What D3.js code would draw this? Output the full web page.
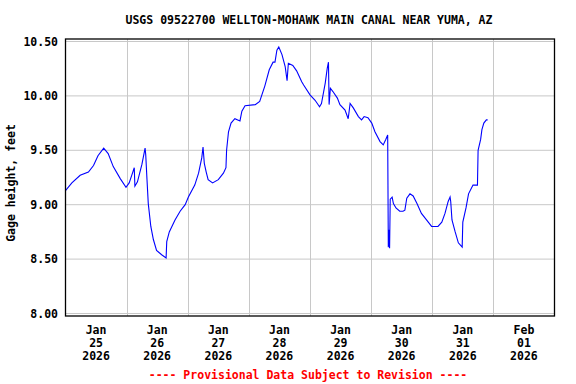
<!DOCTYPE html>
<html>
<head>
<meta charset="utf-8">
<script src="https://cdn.jsdelivr.net/npm/d3@7"></script>
<style>
  body { margin: 0; background: #fff; }
  text { font-family: "DejaVu Sans Mono", "Liberation Mono", monospace; font-weight: bold; }
</style>
</head>
<body>
<svg id="chart" width="576" height="384"></svg>
<script>
// gage height readings (local time, feet)
const times = [
  "2026-01-25 00:00","2026-01-25 02:30","2026-01-25 05:45","2026-01-25 09:00","2026-01-25 11:00",
  "2026-01-25 12:45","2026-01-25 15:00","2026-01-25 16:45","2026-01-25 18:45","2026-01-25 21:30",
  "2026-01-25 23:45","2026-01-26 01:00","2026-01-26 02:00","2026-01-26 03:00","2026-01-26 03:15",
  "2026-01-26 04:15","2026-01-26 06:00","2026-01-26 07:15","2026-01-26 07:30","2026-01-26 08:00",
  "2026-01-26 08:30","2026-01-26 09:30","2026-01-26 10:30","2026-01-26 11:45","2026-01-26 13:45",
  "2026-01-26 15:30","2026-01-26 15:45","2026-01-26 16:45","2026-01-26 19:00","2026-01-26 21:00",
  "2026-01-26 23:00","2026-01-27 00:15","2026-01-27 02:45","2026-01-27 04:15","2026-01-27 05:30",
  "2026-01-27 06:00","2026-01-27 06:30","2026-01-27 07:15","2026-01-27 08:00","2026-01-27 09:45",
  "2026-01-27 12:00","2026-01-27 14:00","2026-01-27 15:00","2026-01-27 15:15","2026-01-27 16:00",
  "2026-01-27 17:00","2026-01-27 18:30","2026-01-27 20:30","2026-01-27 21:15","2026-01-27 22:30",
  "2026-01-28 02:30","2026-01-28 04:15","2026-01-28 06:15","2026-01-28 08:00","2026-01-28 09:30",
  "2026-01-28 10:15","2026-01-28 11:00","2026-01-28 11:45","2026-01-28 13:00","2026-01-28 14:15",
  "2026-01-28 15:00","2026-01-28 15:30","2026-01-28 17:15","2026-01-28 18:45","2026-01-28 20:45",
  "2026-01-28 21:30","2026-01-29 00:00","2026-01-29 02:00","2026-01-29 03:45","2026-01-29 04:30",
  "2026-01-29 06:00","2026-01-29 06:45","2026-01-29 07:15","2026-01-29 07:30","2026-01-29 08:00",
  "2026-01-29 09:00","2026-01-29 10:45","2026-01-29 11:45","2026-01-29 13:45","2026-01-29 15:00",
  "2026-01-29 15:45","2026-01-29 17:00","2026-01-29 19:00","2026-01-29 20:15","2026-01-29 21:15",
  "2026-01-29 22:45","2026-01-30 00:15","2026-01-30 01:30","2026-01-30 03:30","2026-01-30 04:45",
  "2026-01-30 05:45","2026-01-30 06:30","2026-01-30 06:45","2026-01-30 07:00","2026-01-30 07:15",
  "2026-01-30 07:30","2026-01-30 08:15","2026-01-30 08:45","2026-01-30 09:45","2026-01-30 11:15",
  "2026-01-30 12:30","2026-01-30 13:15","2026-01-30 14:00","2026-01-30 15:15","2026-01-30 16:30",
  "2026-01-30 18:00","2026-01-30 19:45","2026-01-30 21:45","2026-01-30 23:45","2026-01-31 02:15",
  "2026-01-31 03:45","2026-01-31 05:00","2026-01-31 06:15","2026-01-31 07:00","2026-01-31 07:15",
  "2026-01-31 07:45","2026-01-31 09:00","2026-01-31 10:15","2026-01-31 11:45","2026-01-31 12:00",
  "2026-01-31 13:15","2026-01-31 14:15","2026-01-31 16:00","2026-01-31 17:45","2026-01-31 18:00",
  "2026-01-31 19:00","2026-01-31 19:30","2026-01-31 20:15","2026-01-31 21:15","2026-01-31 21:45"
];
const heights = [
  9.13, 9.20, 9.27, 9.30, 9.36,
  9.45, 9.52, 9.47, 9.35, 9.24,
  9.16, 9.20, 9.27, 9.34, 9.17,
  9.21, 9.37, 9.52, 9.46, 9.23,
  9.01, 8.80, 8.68, 8.58, 8.54,
  8.51, 8.66, 8.75, 8.86, 8.94,
  9.00, 9.07, 9.18, 9.29, 9.43,
  9.53, 9.38, 9.30, 9.23, 9.20,
  9.23, 9.29, 9.34, 9.50, 9.67,
  9.75, 9.79, 9.77, 9.86, 9.91,
  9.92, 9.95, 10.09, 10.24, 10.31,
  10.31, 10.42, 10.45, 10.38, 10.27,
  10.14, 10.30, 10.28, 10.23, 10.13,
  10.10, 10.01, 9.96, 9.90, 9.93,
  10.12, 10.25, 10.31, 9.92, 10.07,
  10.04, 9.98, 9.92, 9.87, 9.79,
  9.93, 9.89, 9.81, 9.78, 9.81,
  9.80, 9.75, 9.67, 9.58, 9.55,
  9.60, 9.64, 8.61, 8.77, 8.60,
  9.05, 9.07, 9.01, 8.97, 8.94,
  8.94, 8.95, 9.06, 9.10, 9.08,
  9.01, 8.92, 8.86, 8.80, 8.80,
  8.84, 8.92, 9.03, 9.07, 9.03,
  8.86, 8.75, 8.65, 8.61, 8.84,
  8.97, 9.10, 9.18, 9.18, 9.50,
  9.60, 9.69, 9.75, 9.78, 9.78
];
const yTicks = [8.0, 8.5, 9.0, 9.5, 10.0, 10.5];
const dayTicks = ["2026-01-25","2026-01-26","2026-01-27","2026-01-28","2026-01-29","2026-01-30","2026-01-31","2026-02-01"];
const xStart = "2026-01-25", xEnd = "2026-02-02";

const titleText = "USGS 09522700 WELLTON-MOHAWK MAIN CANAL NEAR YUMA, AZ";
const yLabel = "Gage height, feet";
const footText = "---- Provisional Data Subject to Revision ----";

const svg = d3.select("#chart");
const plotL = 65.5, plotR = 554.5, plotT = 39, plotB = 316;

const parseT = d3.timeParse("%Y-%m-%d %H:%M");
const parseD = d3.timeParse("%Y-%m-%d");

const x = d3.scaleTime()
  .domain([parseD(xStart), parseD(xEnd)])
  .range([plotL, plotR]);
const y = d3.scaleLinear()
  .domain([8, 10.5])
  .range([313.5, 41.5]);

const data = times.map((t, i) => ({t: parseT(t), v: heights[i]}));

// grid lines
const grid = svg.append("g").attr("stroke", "#c8c8c8").attr("stroke-width", 1);
grid.selectAll(".hg").data(yTicks).join("line")
  .attr("x1", plotL).attr("x2", plotR)
  .attr("y1", d => y(d)).attr("y2", d => y(d));
grid.selectAll(".vg").data(dayTicks.slice(1)).join("line")
  .attr("x1", d => Math.round(x(parseD(d))) + 0.5).attr("x2", d => Math.round(x(parseD(d))) + 0.5)
  .attr("y1", plotT).attr("y2", plotB);

// the series
const line = d3.line().x(d => x(d.t)).y(d => y(d.v));
svg.append("path").datum(data)
  .attr("d", line)
  .attr("fill", "none")
  .attr("stroke", "#0000ff")
  .attr("stroke-width", 1.1);

// frame
svg.append("rect")
  .attr("x", plotL).attr("y", plotT)
  .attr("width", plotR - plotL).attr("height", plotB - plotT)
  .attr("fill", "none").attr("stroke", "#000").attr("stroke-width", 1.3);

// y tick labels
svg.selectAll(".yl").data(yTicks).join("text")
  .attr("x", 58).attr("y", d => y(d) + 4)
  .attr("text-anchor", "end")
  .attr("font-size", 11.5)
  .text(d => d.toFixed(2));

// x tick labels, centred under each day
const fmtMon = d3.timeFormat("%b"), fmtDay = d3.timeFormat("%d"), fmtYr = d3.timeFormat("%Y");
const xl = svg.selectAll(".xl").data(dayTicks).join("text")
  .attr("text-anchor", "middle")
  .attr("font-size", 11.5);
xl.each(function(d) {
  const day = parseD(d);
  const cx = x(d3.timeHour.offset(day, 12));
  const t = d3.select(this);
  [fmtMon(day), fmtDay(day), fmtYr(day)].forEach((s, i) => {
    t.append("tspan").attr("x", cx).attr("y", 334 + i * 13).text(s);
  });
});

// title
svg.append("text")
  .attr("x", 309).attr("y", 24)
  .attr("text-anchor", "middle")
  .attr("font-size", 11.5)
  .text(titleText);

// y axis label
svg.append("text")
  .attr("transform", "translate(15,183) rotate(-90)")
  .attr("text-anchor", "middle")
  .attr("font-size", 11.5)
  .text(yLabel);

// footer
svg.append("text")
  .attr("x", 308).attr("y", 379)
  .attr("text-anchor", "middle")
  .attr("font-size", 11.5)
  .attr("fill", "#ff0000")
  .text(footText);
</script>
</body>
</html>
